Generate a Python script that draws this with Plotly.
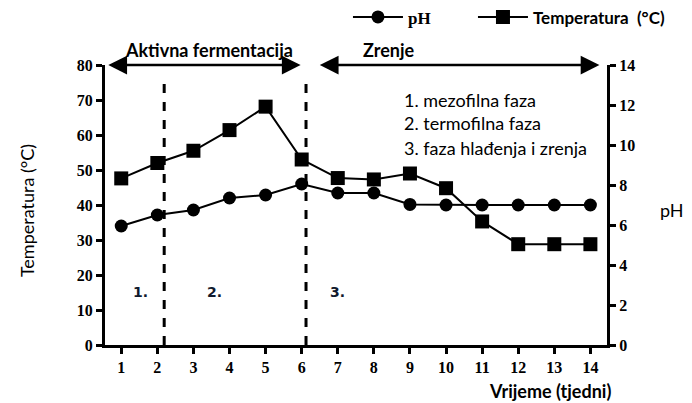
import plotly.graph_objects as go

weeks = list(range(1, 15))
temperature = [47.6, 52.0, 55.5, 61.4, 68.1, 53.0, 47.7, 47.3, 49.0, 44.8, 35.3, 28.8, 28.8, 28.8]
ph = [5.95, 6.5, 6.75, 7.35, 7.5, 8.05, 7.6, 7.6, 7.03, 7.0, 7.0, 7.0, 7.0, 7.0]
temp_ticks = [0, 10, 20, 30, 40, 50, 60, 70, 80]
ph_ticks = [0, 2, 4, 6, 8, 10, 12, 14]
phase_lines = [2.19, 6.12]
phase_labels = ["1.", "2.", "3."]
phase_label_x = [1.53, 3.58, 6.98]
phase_desc = ["1. mezofilna faza", "2. termofilna faza", "3. faza hlađenja i zrenja"]
phase_desc_y = [70, 63.4, 56.3]

SERIF = "Liberation Serif"
SANS = "Lato"

fig = go.Figure()
fig.add_trace(go.Scatter(
    x=weeks, y=ph, yaxis="y2", name="<b>pH</b>", legend="legend",
    mode="lines+markers",
    line=dict(color="black", width=2),
    marker=dict(symbol="circle", size=13, color="black"),
))
fig.add_trace(go.Scatter(
    x=weeks, y=temperature, name="<b>Temperatura  (°C)</b>", legend="legend2",
    mode="lines+markers",
    line=dict(color="black", width=2),
    marker=dict(symbol="square", size=14, color="black"),
))

for xv in phase_lines:
    fig.add_shape(type="line", x0=xv, x1=xv, y0=0, y1=76.3, xref="x", yref="y",
                  line=dict(color="black", width=3, dash="dash"))

# double arrows
for (x0, x1) in [(0.6, 5.97), (6.46, 14.25)]:
    fig.add_annotation(x=x1, y=80, ax=x0, ay=80, xref="x", yref="y", axref="x", ayref="y",
                       text="", showarrow=True, arrowhead=2, arrowside="end+start",
                       arrowsize=1.5, arrowwidth=2.5, arrowcolor="black")

fig.add_annotation(x=3.44, y=1.054, xref="x", yref="paper", text="<b>Aktivna fermentacija</b>",
                   xanchor="center", yanchor="middle",
                   showarrow=False, font=dict(family=SANS, size=18, color="black"))
fig.add_annotation(x=8.40, y=1.054, xref="x", yref="paper", text="<b>Zrenje</b>",
                   xanchor="center", yanchor="middle",
                   showarrow=False, font=dict(family=SANS, size=18, color="black"))

for lab, xv in zip(phase_labels, phase_label_x):
    fig.add_annotation(x=xv, y=15.1, xref="x", yref="y", text=f"<b>{lab}</b>",
                       xanchor="center", yanchor="middle",
                       showarrow=False, font=dict(family="DejaVu Sans", size=14, color="#111a2e"))

for txt, yv in zip(phase_desc, phase_desc_y):
    fig.add_annotation(x=8.78, y=yv, xref="x", yref="y", text=txt, xanchor="left",
                       yanchor="middle",
                       showarrow=False, font=dict(family=SANS, size=18, color="black"))

fig.add_annotation(x=0.886, y=-0.164, xref="paper", yref="paper", text="<b>Vrijeme (tjedni)</b>",
                   xanchor="center", yanchor="middle",
                   showarrow=False, font=dict(family=SANS, size=18, color="black"))
fig.add_annotation(x=-0.155, y=0.479, xref="paper", yref="paper", text="Temperatura (°C)",
                   xanchor="center", yanchor="middle",
                   textangle=-90, showarrow=False, font=dict(family=SANS, size=18, color="black"))
fig.add_annotation(x=1.129, y=0.482, xref="paper", yref="paper", text="pH",
                   xanchor="center", yanchor="middle",
                   showarrow=False, font=dict(family=SANS, size=18, color="black"))

tickfont = dict(family=SERIF, size=16, color="black", weight="bold")
fig.update_layout(
    width=692, height=403,
    margin=dict(l=97, r=93, t=57, b=66, autoexpand=False),
    paper_bgcolor="white", plot_bgcolor="white",
    showlegend=True,
    legend=dict(orientation="h", x=0.484, y=1.17, xanchor="left", yanchor="middle",
                font=dict(family=SERIF, size=17, color="black"), itemwidth=50,
                bgcolor="rgba(0,0,0,0)"),
    legend2=dict(orientation="h", x=0.733, y=1.17, xanchor="left", yanchor="middle",
                 font=dict(family=SANS, size=17, color="black"), itemwidth=50,
                 bgcolor="rgba(0,0,0,0)"),
    xaxis=dict(range=[0.55, 14.46], tickvals=weeks, ticks="outside", ticklen=6, tickwidth=3,
               tickcolor="black", showline=True, linewidth=3, linecolor="black",
               showgrid=False, zeroline=False, tickfont=tickfont),
    yaxis=dict(range=[0, 80], tickvals=temp_ticks, ticks="outside", ticklen=6, tickwidth=3,
               tickcolor="black", showline=True, linewidth=3, linecolor="black",
               showgrid=False, zeroline=False, tickfont=tickfont),
    yaxis2=dict(range=[0, 14], tickvals=ph_ticks, overlaying="y", side="right", ticks="outside",
                ticklen=6, tickwidth=3, tickcolor="black", showline=True, linewidth=3,
                linecolor="black", showgrid=False, zeroline=False, tickfont=tickfont),
)

fig.write_html("out.html")
